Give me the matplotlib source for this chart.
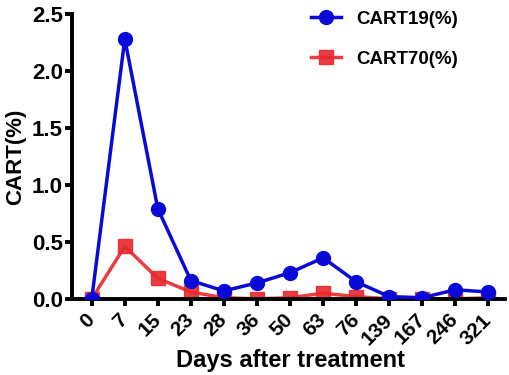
import matplotlib
matplotlib.use("Agg")
import matplotlib.pyplot as plt

days = ["0", "7", "15", "23", "28", "36", "50", "63", "76", "139", "167", "246", "321"]
cart19 = [0.0, 2.28, 0.79, 0.16, 0.07, 0.14, 0.23, 0.36, 0.15, 0.02, 0.01, 0.08, 0.06]
cart70 = [0.0, 0.46, 0.18, 0.06, 0.01, 0.0, 0.01, 0.05, 0.02, 0.0, 0.0, 0.0, 0.01]

plt.rcParams['font.family'] = ['Liberation Sans', 'DejaVu Sans']
plt.rcParams['font.weight'] = 'bold'

fig = plt.figure(figsize=(5.1, 3.75), dpi=100)
ax = fig.add_axes([0.141, 0.203, 0.849, 0.76])
x = list(range(len(days)))
ax.plot(x, cart19, color='#0a0ad8', lw=2.5, marker='o', ms=10, label='CART19(%)', zorder=3)
ax.plot(x, cart70, color='#e8282d', lw=2.5, marker='s', ms=9.5, label='CART70(%)', alpha=0.9, zorder=2)

ax.set_xlim(-0.6, 12.5)
ax.set_ylim(0, 2.5)
ax.set_yticks([0, 0.5, 1.0, 1.5, 2.0, 2.5])
ax.set_yticklabels(["0.0", "0.5", "1.0", "1.5", "2.0", "2.5"])
ax.set_xticks(x)
ax.set_xticklabels(days, rotation=45, ha='right', va='center', rotation_mode='anchor')
for s in ['top', 'right']:
    ax.spines[s].set_visible(False)
for s in ['left', 'bottom']:
    ax.spines[s].set_linewidth(2.8)
ax.tick_params(axis='both', width=2.8, length=5, colors='black')
ax.tick_params(axis='y', labelsize=16, pad=1.5)
ax.tick_params(axis='x', labelsize=15, pad=8)
for lab in ax.get_xticklabels() + ax.get_yticklabels():
    lab.set_fontweight('bold')
fig.text(291 / 510, 1 - 367 / 375, 'Days after treatment', fontsize=17, fontweight='bold',
         ha='center', va='baseline')
fig.text(16 / 510, 1 - 157 / 375, 'CART(%)', fontsize=16, fontweight='bold',
         ha='center', va='center', rotation=90)
leg = ax.legend(loc='upper right', bbox_to_anchor=(0.93, 1.07), frameon=False,
                handlelength=1.6, labelspacing=1.2, prop={'weight': 'bold', 'size': 13.5})
fig.savefig('out.png', dpi=100)
